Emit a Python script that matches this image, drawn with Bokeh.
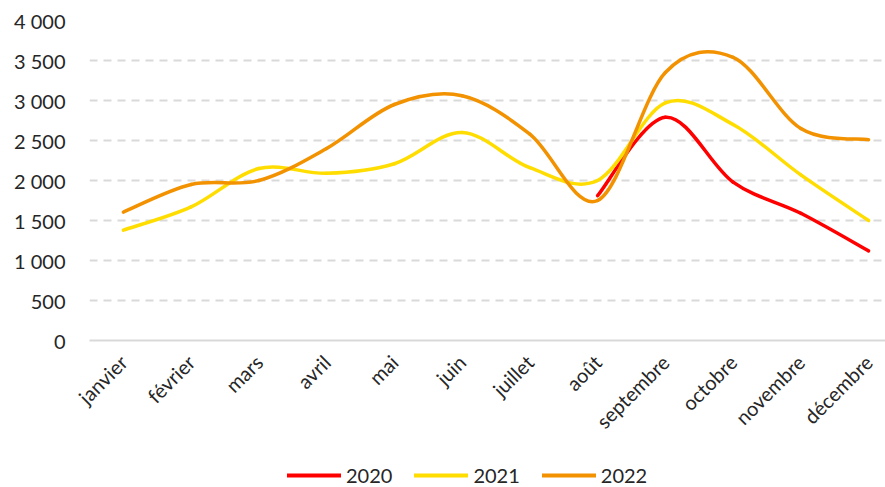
import math
from bokeh.plotting import figure
from bokeh.layouts import column
from bokeh.models import FixedTicker, Legend, LegendItem, ColumnDataSource, Range1d
from bokeh.embed import file_html
from bokeh.resources import INLINE

months = ["janvier", "février", "mars", "avril", "mai", "juin", "juillet",
          "août", "septembre", "octobre", "novembre", "décembre"]
y_ticks = [0, 500, 1000, 1500, 2000, 2500, 3000, 3500, 4000]
y_tick_labels = ["0", "500", "1 000", "1 500", "2 000", "2 500", "3 000", "3 500", "4 000"]

v2020 = [None, None, None, None, None, None, None, 1810, 2790, 1980, 1590, 1120]
v2021 = [1380, 1670, 2150, 2090, 2210, 2600, 2160, 2000, 2970, 2700, 2070, 1500]
v2022 = [1605, 1950, 2000, 2400, 2950, 3060, 2580, 1750, 3350, 3540, 2650, 2510]

series = [("2020", v2020, "#FF0000"), ("2021", v2021, "#FFDD00"), ("2022", v2022, "#F39200")]

FONT = "Lato"
TXT = "#262626"

p = figure(width=885, height=447, output_backend="svg", toolbar_location=None,
           x_range=Range1d(-0.5, 11.25), y_range=Range1d(0, 4000),
           min_border_left=89, min_border_right=0, min_border_top=20, min_border_bottom=107)
p.outline_line_color = None
p.background_fill_color = "white"

p.xaxis.ticker = FixedTicker(ticks=list(range(len(months))))
p.xaxis.major_label_overrides = {i: m for i, m in enumerate(months)}
p.xaxis.major_label_orientation = math.pi / 4
p.xaxis.axis_line_color = "#D9D9D9"
p.xaxis.axis_line_width = 2
p.xaxis.major_tick_line_color = None
p.xaxis.minor_tick_line_color = None
p.xaxis.major_label_text_font = FONT
p.xaxis.major_label_text_font_size = "20px"
p.xaxis.major_label_text_color = TXT
p.xaxis.major_label_standoff = 12

p.yaxis.ticker = FixedTicker(ticks=y_ticks)
p.yaxis.major_label_overrides = {t: l for t, l in zip(y_ticks, y_tick_labels)}
p.yaxis.axis_line_color = None
p.yaxis.major_tick_line_color = None
p.yaxis.minor_tick_line_color = None
p.yaxis.major_label_text_font = FONT
p.yaxis.major_label_text_font_size = "20px"
p.yaxis.major_label_text_color = TXT
p.yaxis.major_label_standoff = 18

p.xgrid.grid_line_color = None
p.ygrid.ticker = FixedTicker(ticks=y_ticks[1:])
p.ygrid.grid_line_color = "#D9D9D9"
p.ygrid.grid_line_width = 2
p.ygrid.grid_line_dash = "8 6"


def bezier_source(vals):
    pts = [(i, v) for i, v in enumerate(vals) if v is not None]
    x0, y0, x1, y1, cx0, cy0, cx1, cy1 = [], [], [], [], [], [], [], []
    n = len(pts)
    for i in range(n - 1):
        pa = pts[i - 1] if i > 0 else pts[i]
        pb = pts[i]
        pc = pts[i + 1]
        pd = pts[i + 2] if i + 2 < n else pts[i + 1]
        x0.append(pb[0]); y0.append(pb[1])
        x1.append(pc[0]); y1.append(pc[1])
        cx0.append(pb[0] + (pc[0] - pa[0]) / 6); cy0.append(pb[1] + (pc[1] - pa[1]) / 6)
        cx1.append(pc[0] - (pd[0] - pb[0]) / 6); cy1.append(pc[1] - (pd[1] - pb[1]) / 6)
    return ColumnDataSource(dict(x0=x0, y0=y0, x1=x1, y1=y1, cx0=cx0, cy0=cy0, cx1=cx1, cy1=cy1))


for name, vals, color in series:
    src = bezier_source(vals)
    p.bezier(x0="x0", y0="y0", x1="x1", y1="y1", cx0="cx0", cy0="cy0", cx1="cx1", cy1="cy1",
             source=src, line_color=color, line_width=3.5, line_cap="round")

# legend strip below the chart (its line renderers sit outside the visible range)
lg = figure(width=885, height=40, output_backend="svg", toolbar_location=None,
            x_range=Range1d(0, 1), y_range=Range1d(0, 1),
            min_border_left=0, min_border_right=0, min_border_top=0, min_border_bottom=0)
lg.axis.visible = False
lg.grid.grid_line_color = None
lg.outline_line_color = None
items = []
for name, vals, color in series:
    r = lg.line(x=[5, 6], y=[5, 5], line_color=color, line_width=4, line_cap="round")
    items.append(LegendItem(label=name, renderers=[r]))
legend = Legend(items=items, orientation="horizontal", location=(198, 0),
                label_text_font=FONT, label_text_font_size="20px", label_text_color=TXT,
                glyph_width=54, glyph_height=20, spacing=22, label_standoff=5,
                border_line_color=None, background_fill_alpha=0, padding=0, margin=0)
lg.add_layout(legend, "center")

open("out.html", "w").write(file_html(column(p, lg, spacing=0), INLINE))
